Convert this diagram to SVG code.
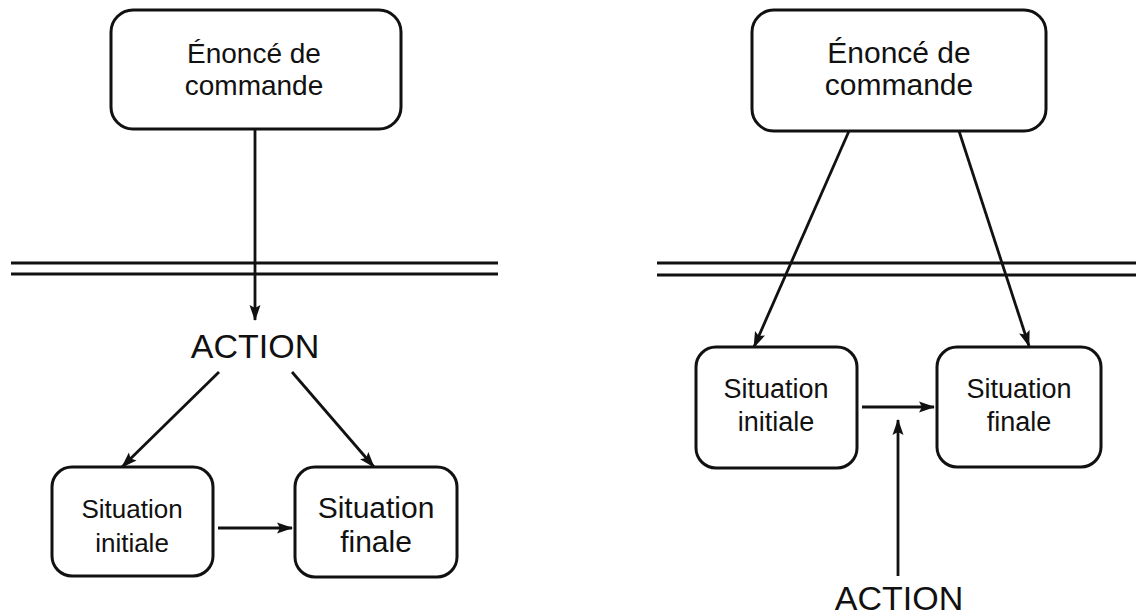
<svg xmlns="http://www.w3.org/2000/svg" width="1136" height="615" viewBox="0 0 1136 615">
<style>
.box{fill:#fff;stroke:#111;stroke-width:3}
.t{font-family:"Liberation Sans",Arial,sans-serif;fill:#111;text-anchor:middle}
.c{stroke:#111;stroke-width:3;fill:none}
.c2{stroke:#111;stroke-width:2.8;fill:none;marker-end:url(#ah)}
</style>
<defs>
<marker id="ah" markerUnits="userSpaceOnUse" markerWidth="16" markerHeight="14" viewBox="0 0 16 14" refX="15" refY="7" orient="auto">
<path d="M0,1.5 L16,7 L0,12.5 L3,7 Z" fill="#111"/>
</marker>
</defs>
<rect width="1136" height="615" fill="#fff"/>
<g id="separators">
<line class="c" x1="11" y1="263" x2="498" y2="263"/>
<line class="c" x1="11" y1="274" x2="498" y2="274"/>
<line class="c" x1="657" y1="263" x2="1136" y2="263"/>
<line class="c" x1="657" y1="275" x2="1136" y2="275"/>
</g>
<g id="connectors">
<line class="c2" x1="255" y1="130" x2="255" y2="320"/>
<line class="c2" x1="219" y1="372" x2="122" y2="467"/>
<line class="c2" x1="292" y1="372" x2="374" y2="467"/>
<line class="c2" x1="218" y1="528" x2="292" y2="528"/>
<line class="c2" x1="849" y1="131" x2="754" y2="347"/>
<line class="c2" x1="959" y1="131" x2="1029" y2="346"/>
<line class="c2" x1="862" y1="407" x2="934" y2="407"/>
<line class="c2" x1="898" y1="576" x2="898" y2="420"/>
</g>
<g id="enonce-left">
<rect class="box" x="111" y="10" width="290" height="119" rx="22"/>
<text class="t" font-size="28" x="254" y="63">Énoncé de</text>
<text class="t" font-size="28" x="254" y="95">commande</text>
</g>
<g id="action-left">
<text class="t" font-size="34" x="255" y="358">ACTION</text>
</g>
<g id="initiale-left">
<rect class="box" x="52" y="467" width="161" height="109" rx="20"/>
<text class="t" font-size="26" x="132" y="518">Situation</text>
<text class="t" font-size="26" x="132" y="552">initiale</text>
</g>
<g id="finale-left">
<rect class="box" x="295" y="467" width="162" height="110" rx="20"/>
<text class="t" font-size="30" x="376" y="518">Situation</text>
<text class="t" font-size="30" x="376" y="552">finale</text>
</g>
<g id="enonce-right">
<rect class="box" x="752" y="10" width="294" height="121" rx="22"/>
<text class="t" font-size="30" x="899" y="63">Énoncé de</text>
<text class="t" font-size="30" x="899" y="95">commande</text>
</g>
<g id="initiale-right">
<rect class="box" x="696" y="347" width="161" height="121" rx="20"/>
<text class="t" font-size="27" x="776" y="398">Situation</text>
<text class="t" font-size="27" x="776" y="431">initiale</text>
</g>
<g id="finale-right">
<rect class="box" x="937" y="347" width="164" height="120" rx="20"/>
<text class="t" font-size="27" x="1019" y="398">Situation</text>
<text class="t" font-size="27" x="1019" y="431">finale</text>
</g>
<g id="action-right">
<text class="t" font-size="34" x="899" y="610">ACTION</text>
</g>
</svg>
